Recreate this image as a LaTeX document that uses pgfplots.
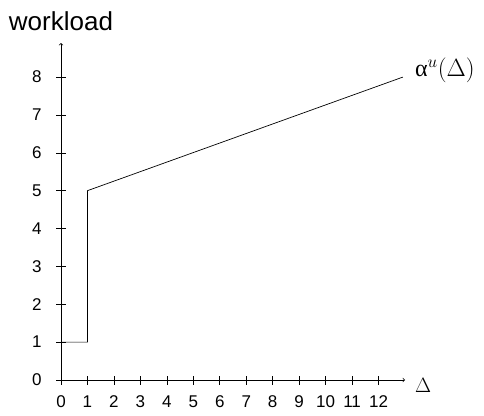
\documentclass[border=0pt]{standalone}
\usepackage{fontspec}
\setmainfont{Liberation Sans}
\newfontfamily\seriffont{Liberation Serif}
\usepackage{pgfplots}
\pgfplotsset{compat=1.18}
\begin{document}
\begin{tikzpicture}
\begin{axis}[
  scale only axis, width=344pt, height=337pt,
  xmin=0, xmax=13, ymin=0, ymax=8.9,
  axis lines=left,
  axis line style={-to, line width=0.7pt},
  xtick={0,...,12}, ytick={0,...,8},
  tick align=center, major tick length=9pt,
  tick style={black, line width=0.6pt},
  tick label style={font=\fontsize{17}{20}\selectfont},
  /pgf/number format/assume math mode=true,
  xticklabel style={yshift=-8pt},
  yticklabel style={xshift=-11.5pt},
  every axis x label/.style={at={(rel axis cs:1,0)}, anchor=west, inner sep=0pt, xshift=10pt, yshift=-5pt, font=\fontsize{20}{24}\selectfont},
  every axis y label/.style={at={(rel axis cs:0,1)}, anchor=south, inner sep=0pt, yshift=12pt, font=\fontsize{26}{30}\selectfont},
  xlabel={$\Delta$},
  ylabel={workload},
  clip=false,
]
\path ([xshift=-61pt,yshift=-35pt]rel axis cs:0,0) rectangle ([xshift=423pt,yshift=380pt]rel axis cs:0,0);
\addplot[black, line width=0.7pt] coordinates {(0,1) (1,1) (1,5) (12.92,8)};
\node[anchor=west, font=\fontsize{24}{28}\selectfont, inner sep=0pt, xshift=12pt] at (axis cs:12.92,8.18) {{\seriffont α}$^{u}(\Delta)$};
\end{axis}
\end{tikzpicture}
\end{document}
